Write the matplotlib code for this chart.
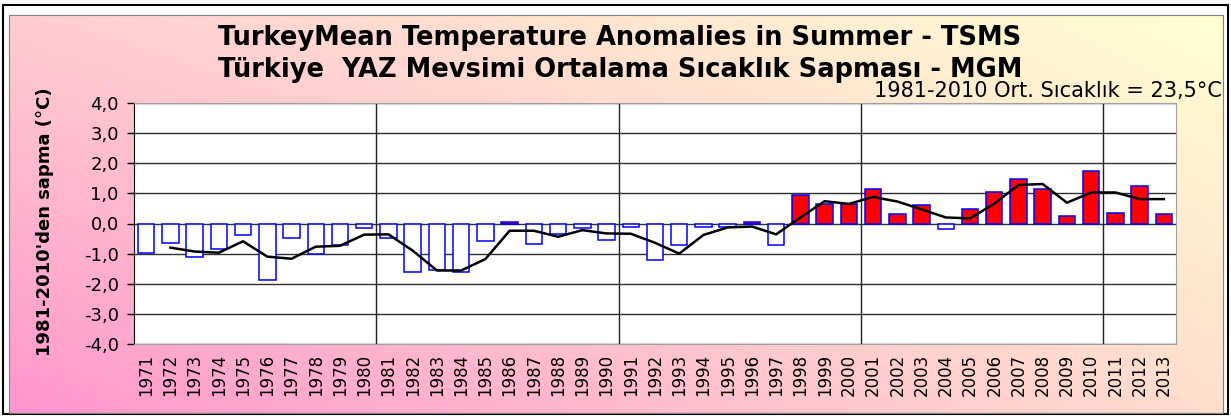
import numpy as np
import matplotlib
matplotlib.use("Agg")
import matplotlib.pyplot as plt
from matplotlib.patches import Rectangle

years = list(range(1971, 2014))
anomalies = [-0.98, -0.66, -1.10, -0.84, -0.39, -1.86, -0.48, -1.00, -0.70, -0.16,
             -0.48, -1.60, -1.55, -1.60, -0.57, 0.05, -0.68, -0.35, -0.16, -0.54,
             -0.13, -1.22, -0.72, -0.10, -0.12, 0.05, -0.70, 0.95, 0.65, 0.65,
             1.13, 0.31, 0.60, -0.17, 0.47, 1.06, 1.48, 1.15, 0.26, 1.74,
             0.35, 1.23, 0.32]
trend_years = list(range(1972, 2014))
trend = [-0.80, -0.93, -0.97, -0.59, -1.10, -1.17, -0.77, -0.74, -0.37,
         -0.36, -0.90, -1.56, -1.56, -1.18, -0.24, -0.24, -0.44, -0.22, -0.33,
         -0.34, -0.64, -1.00, -0.38, -0.13, -0.10, -0.36, 0.20, 0.74, 0.65,
         0.88, 0.73, 0.47, 0.20, 0.17, 0.66, 1.28, 1.31, 0.69, 1.03,
         1.03, 0.81, 0.81]
yticks = [4, 3, 2, 1, 0, -1, -2, -3, -4]
ytick_labels = ["4,0", "3,0", "2,0", "1,0", "0,0", "-1,0", "-2,0", "-3,0", "-4,0"]
vlines_at = [1980.5, 1990.5, 2000.5, 2010.5]

title1 = "TurkeyMean Temperature Anomalies in Summer - TSMS"
title2 = "Türkiye  YAZ Mevsimi Ortalama Sıcaklık Sapması - MGM"
subtitle = "1981-2010 Ort. Sıcaklık = 23,5°C"
ylabel = "1981-2010'den sapma (°C)"

W, H = 1231, 418
fig = plt.figure(figsize=(W / 100, H / 100), dpi=100)
fig.patch.set_facecolor("white")

# gradient background
bg = fig.add_axes([0, 0, 1, 1], zorder=0)
bg.set_axis_off()
tl = np.array([255, 205, 208]) / 255
tr = np.array([255, 255, 210]) / 255
bl = np.array([255, 150, 205]) / 255
br = np.array([255, 222, 205]) / 255
nx, ny = 200, 80
u = np.linspace(0, 1, nx)[None, :, None]
v = np.linspace(0, 1, ny)[:, None, None]
img = (1 - v) * ((1 - u) * tl + u * tr) + v * ((1 - u) * bl + u * br)
x0, x1 = 9 / W, 1223 / W
y0, y1 = 1 - 413 / H, 1 - 15 / H
bg.set_xlim(0, 1)
bg.set_ylim(0, 1)
bg.imshow(img, extent=[x0, x1, y0, y1], aspect="auto", origin="upper", interpolation="bilinear")
bg.add_patch(Rectangle((3 / W, 1 - 414 / H), 1225 / W, 409 / H, fill=False, edgecolor="black", lw=1.5))
bg.add_patch(Rectangle((x0, y0), x1 - x0, y1 - y0, fill=False, edgecolor="#808080", lw=0.8))

ax = fig.add_axes([134 / W, 1 - 344 / H, (1176 - 134) / W, (344 - 103) / H], zorder=1)
ax.set_facecolor("white")
ax.set_xlim(1970.5, 2013.5)
ax.set_ylim(-4, 4)

colors = ["#FF0000" if a > 0 else "white" for a in anomalies]
ax.bar(years, anomalies, width=0.68, color=colors, edgecolor="#0000FF", linewidth=1.1, zorder=3)
ax.plot(trend_years, trend, color="black", lw=1.8, zorder=4)

for t in yticks:
    ax.axhline(t, color="#303030", lw=1.0, zorder=1)
for xv in vlines_at:
    ax.axvline(xv, color="#202020", lw=1.0, zorder=1)

ax.set_yticks(yticks)
ax.set_yticklabels(ytick_labels, fontsize=13, family="DejaVu Sans")
ax.set_xticks(years)
ax.set_xticklabels([str(y) for y in years], rotation=90, fontsize=12, family="DejaVu Sans")
ax.tick_params(axis="x", length=0, pad=7)
ax.tick_params(axis="y", length=5, width=1, pad=6)
for s in ["top", "right"]:
    ax.spines[s].set_color("#A0A0A0")
ax.spines["bottom"].set_color("#A0A0A0")
ax.spines["left"].set_color("black")

fig.text(45 / W, 1 - 222 / H, ylabel, rotation=90, ha="center", va="center",
         fontsize=13, fontweight="bold", family="DejaVu Sans")

fig.text(620 / W, 1 - 38 / H, title1, ha="center", va="center", fontsize=18.5,
         fontweight="bold", family="DejaVu Sans")
fig.text(620 / W, 1 - 70 / H, title2, ha="center", va="center", fontsize=18.5,
         fontweight="bold", family="DejaVu Sans")
fig.text(1222 / W, 1 - 91 / H, subtitle, ha="right", va="center", fontsize=15,
         family="DejaVu Sans")

fig.savefig("out.png", dpi=100)
